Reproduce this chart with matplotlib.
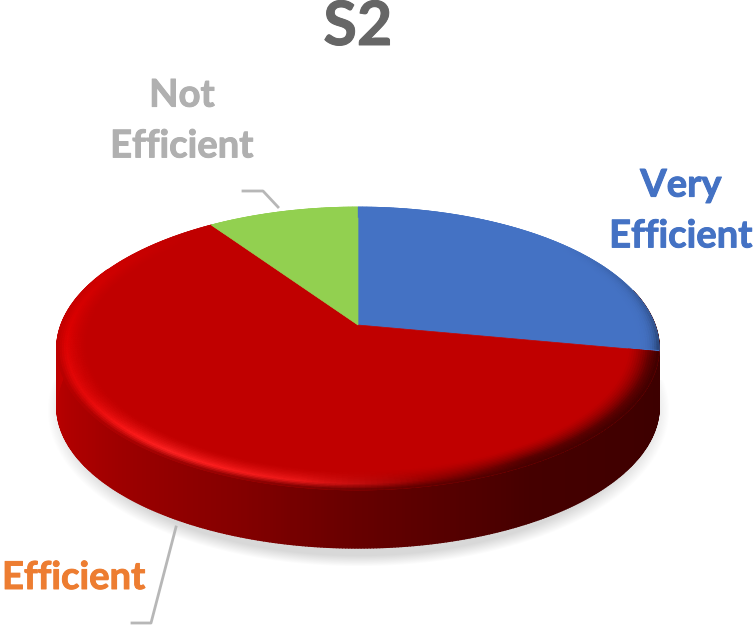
# coding=utf-8

import numpy as np
import matplotlib
matplotlib.use('Agg')
import matplotlib.pyplot as plt
import matplotlib.patheffects as pe
from matplotlib.collections import PolyCollection
from matplotlib.colors import to_rgb

title = 'S2'
categories = ['Very\nEfficient', 'Efficient', 'Not\nEfficient']
shares = [28, 62.5, 9.5]
slice_colors = ['#4472C4', '#C00000', '#92D050']
label_colors = ['#4472C4', '#ED7D31', '#B0B0B0']

# pie geometry in picture pixels, circle goes through a small perspective
CX, CY = 358, 325
A, B, K = 297, 137.6, 0.166
DEPTH = 58
BEVEL = 0.10


def project(theta, r=1.0):
    """theta in degrees, clockwise from the back of the pie"""
    t = np.radians(theta)
    u, v = r * np.sin(t), r * np.cos(t)
    w = 1 + K * v
    return CX + A * u / w, CY - B * v / w


def side_color(theta):
    th = [80, 110, 150, 180, 200, 235, 270, 290]
    rs = [0.24, 0.24, 0.27, 0.40, 0.52, 0.66, 0.76, 0.80]
    return np.array([np.interp(theta, th, rs), 0, 0])


def rim_color(theta, base):
    th = [0, 50, 85, 105, 150, 168, 190, 215, 240, 270, 320, 360]
    gain = [1, 1, 0.75, 0.5, 0.45, 0.75, 1.1, 1.2, 1.15, 1.15, 1, 1]
    add = [0, 0, 0, 0, 0, 0, 0.1, 0.14, 0.04, 0, 0, 0]
    g = np.interp(theta, th, gain)
    a = np.interp(theta, th, add)
    return np.clip(np.array(base) * g + a, 0, 1)


def draw_shadow(ax):
    yy, xx = np.mgrid[380:590, 30:690]
    d = np.sqrt(((xx - 358) / 311.0) ** 2 + ((yy - 410) / 156.0) ** 2)
    img = np.zeros(d.shape + (4,))
    img[..., :3] = 0.85
    img[..., 3] = np.clip((1.0 - d) / 0.07, 0, 1)
    ax.imshow(img, extent=(30, 690, 590, 380), aspect='auto', zorder=1,
              interpolation='bilinear')


def draw_side(ax):
    th = np.arange(75, 296, 0.5)
    polys, cols = [], []
    for a, b in zip(th[:-1], th[1:]):
        x0, y0 = project(a)
        x1, y1 = project(b)
        polys.append([(x0, y0), (x1, y1), (x1, y1 + DEPTH), (x0, y0 + DEPTH)])
        cols.append(side_color((a + b) / 2))
    ax.add_collection(PolyCollection(polys, facecolors=cols, edgecolors=cols,
                                     linewidths=1.0, zorder=2))


def draw_top(ax, starts, ends):
    for s, e, c in zip(starts, ends, slice_colors):
        th = np.linspace(s, e, 200)
        x, y = project(th)
        xs = np.r_[CX, x]
        ys = np.r_[CY, y]
        ax.fill(xs, ys, color=c, lw=0.5, zorder=3)

        # rim bevel, rings of small quads
        base = to_rgb(c)
        rings = np.linspace(1 - BEVEL, 1, 15)
        steps = np.arange(s, e + 0.01, 1.0)
        polys, cols = [], []
        for r0, r1 in zip(rings[:-1], rings[1:]):
            pos = ((r0 + r1) / 2 - (1 - BEVEL)) / BEVEL
            for a, b in zip(steps[:-1], steps[1:]):
                x0, y0 = project(a, r0)
                x1, y1 = project(b, r0)
                x2, y2 = project(b, r1)
                x3, y3 = project(a, r1)
                polys.append([(x0, y0), (x1, y1), (x2, y2), (x3, y3)])
                mid = (a + b) / 2
                rim = rim_color(mid, base)
                if mid < 101:
                    # the blue slice only darkens right at its edge
                    col = np.array(base) + (rim - base) * pos ** 5
                elif pos < 0.7:
                    col = np.array(base) + (rim - base) * (pos / 0.7) ** 1.5
                elif mid < 290:
                    col = rim + (side_color(mid) - rim) * (pos - 0.7) / 0.3
                else:
                    col = rim
                cols.append(col)
        ax.add_collection(PolyCollection(polys, facecolors=cols, edgecolors=cols,
                                         linewidths=0.5, zorder=4))


def add_label(ax, x, y, text, color, size, **kw):
    t = ax.text(x, y, text, color=color, fontsize=size, fontweight='bold',
                va='center', **kw)
    # reference font is a bit heavier than Lato bold
    t.set_path_effects([pe.withStroke(linewidth=0.7, foreground=color)])


def main():
    """主函数"""
    plt.rcParams['font.family'] = ['Lato', 'DejaVu Sans']

    fig = plt.figure(figsize=(7.55, 6.28), dpi=100)
    ax = fig.add_axes([0, 0, 1, 1])

    edges = np.cumsum([0] + shares) / sum(shares) * 360
    draw_shadow(ax)
    draw_side(ax)
    draw_top(ax, edges[:-1], edges[1:])

    add_label(ax, 358, 27, title, '#666666', 44, ha='center')

    # labels and leader lines
    add_label(ax, 681, 211, categories[0], label_colors[0], 27.5, ha='center', linespacing=1.6)
    add_label(ax, 2, 578, categories[1], label_colors[1], 27.5, ha='left')
    add_label(ax, 182, 121, categories[2], label_colors[2], 27.5, ha='center', linespacing=1.6)

    ax.plot([243, 263, 278], [191, 191, 207], color='#B7B7B7', lw=2, zorder=5)
    ax.plot([176, 151, 132], [527, 623, 623], color='#B7B7B7', lw=2, zorder=5)

    ax.set_xlim(0, 755)
    ax.set_ylim(628, 0)
    ax.axis('off')

    plt.savefig('out.png', dpi=100)


if __name__ == '__main__':
    main()
